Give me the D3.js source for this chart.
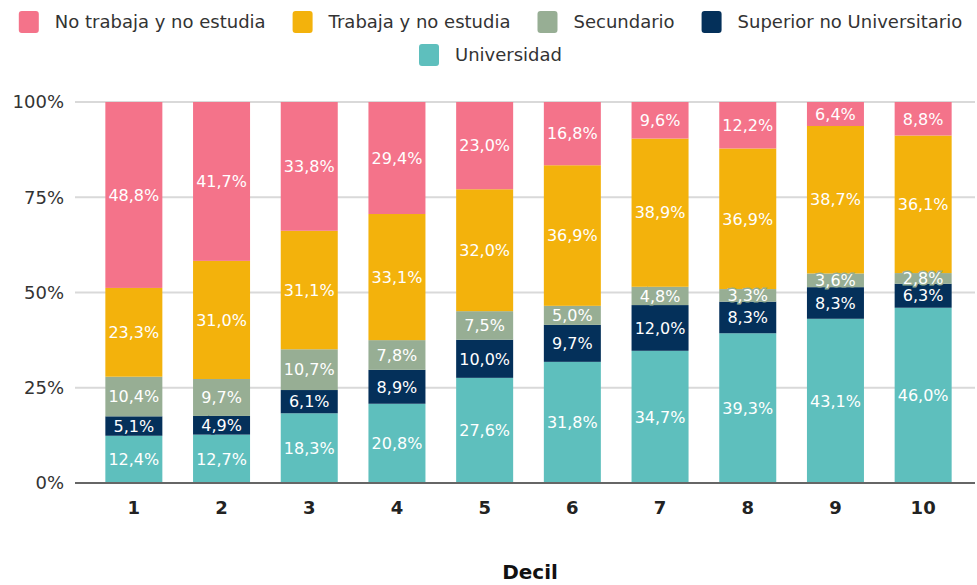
<!DOCTYPE html>
<html>
<head>
<meta charset="utf-8">
<script src="https://cdn.jsdelivr.net/npm/d3@7"></script>
<style>
  body { margin: 0; background: #fff; }
  text { font-family: "DejaVu Sans", Verdana, sans-serif; }
</style>
</head>
<body>
<script>
var width = 977, height = 585;

var deciles = ["1", "2", "3", "4", "5", "6", "7", "8", "9", "10"];
var universidad = [12.4, 12.7, 18.3, 20.8, 27.6, 31.8, 34.7, 39.3, 43.1, 46.0];
var superiorNoUniv = [5.1, 4.9, 6.1, 8.9, 10.0, 9.7, 12.0, 8.3, 8.3, 6.3];
var secundario = [10.4, 9.7, 10.7, 7.8, 7.5, 5.0, 4.8, 3.3, 3.6, 2.8];
var trabaja = [23.3, 31.0, 31.1, 33.1, 32.0, 36.9, 38.9, 36.9, 38.7, 36.1];
var noTrabaja = [48.8, 41.7, 33.8, 29.4, 23.0, 16.8, 9.6, 12.2, 6.4, 8.8];
var yTicks = [0, 25, 50, 75, 100];

// stacking order bottom -> top
var series = [
  { key: "Universidad", values: universidad, color: "#5ebfbd" },
  { key: "Superior no Universitario", values: superiorNoUniv, color: "#04305a" },
  { key: "Secundario", values: secundario, color: "#97ae94" },
  { key: "Trabaja y no estudia", values: trabaja, color: "#f3b20c" },
  { key: "No trabaja y no estudia", values: noTrabaja, color: "#f4738a" }
];

var rows = deciles.map(function(d, i) {
  var r = { decil: d };
  series.forEach(function(s) { r[s.key] = s.values[i]; });
  return r;
});

var svg = d3.select("body").append("svg")
  .attr("width", width)
  .attr("height", height);

var x = d3.scaleBand().domain(deciles).range([90, 967]).paddingInner(0.35).paddingOuter(0.175);
var y = d3.scaleLinear().domain([0, 100]).range([483, 102]);

// gridlines
svg.append("g").selectAll("line")
  .data(yTicks.filter(function(t) { return t > 0; }))
  .enter().append("line")
  .attr("x1", 75).attr("x2", 975)
  .attr("y1", function(d) { return y(d); })
  .attr("y2", function(d) { return y(d); })
  .attr("stroke", "#d9d9d9")
  .attr("stroke-width", 2);

// y tick labels
svg.append("g").selectAll("text")
  .data(yTicks)
  .enter().append("text")
  .attr("x", 64)
  .attr("y", function(d) { return y(d); })
  .attr("dy", "0.36em")
  .attr("text-anchor", "end")
  .attr("font-size", 18)
  .attr("fill", "#333")
  .text(function(d) { return d + "%"; });

var stack = d3.stack().keys(series.map(function(s) { return s.key; }));
var stacked = stack(rows);

var layers = svg.append("g").selectAll("g")
  .data(stacked)
  .enter().append("g")
  .attr("fill", function(d, i) { return series[i].color; });

layers.selectAll("rect")
  .data(function(d) { return d; })
  .enter().append("rect")
  .attr("x", function(d) { return x(d.data.decil); })
  .attr("width", x.bandwidth())
  .attr("y", function(d) { return y(Math.min(d[1], 100)); })
  .attr("height", function(d) { return y(d[0]) - y(Math.min(d[1], 100)); });

// value labels
var fmt = function(v) { return v.toFixed(1).replace(".", ",") + "%"; };
stacked.forEach(function(layer, li) {
  svg.append("g").selectAll("text")
    .data(layer)
    .enter().append("text")
    .attr("x", function(d) { return x(d.data.decil) + x.bandwidth() / 2; })
    .attr("y", function(d) { return (y(d[0]) + y(Math.min(d[1], 100))) / 2; })
    .attr("dy", "0.36em")
    .attr("text-anchor", "middle")
    .attr("font-size", 16)
    .attr("fill", "#fff")
    .attr("stroke", series[li].color)
    .attr("stroke-width", 3)
    .attr("paint-order", "stroke")
    .text(function(d) { return fmt(d.data[layer.key]); });
});

// x axis line
svg.append("line")
  .attr("x1", 75).attr("x2", 975)
  .attr("y1", y(0)).attr("y2", y(0))
  .attr("stroke", "#666")
  .attr("stroke-width", 2);

// x tick labels
svg.append("g").selectAll("text")
  .data(deciles)
  .enter().append("text")
  .attr("x", function(d) { return x(d) + x.bandwidth() / 2; })
  .attr("y", 508)
  .attr("dy", "0.36em")
  .attr("text-anchor", "middle")
  .attr("font-size", 18)
  .attr("font-weight", "bold")
  .attr("fill", "#222")
  .text(function(d) { return d; });

svg.append("text")
  .attr("x", 530)
  .attr("y", 572)
  .attr("dy", "0.36em")
  .attr("text-anchor", "middle")
  .attr("font-size", 20)
  .attr("font-weight", "bold")
  .attr("fill", "#111")
  .text("Decil");

// legend, two centred rows
var legendRows = [[4, 3, 2, 1], [0]];
var legendY = [22, 55];
legendRows.forEach(function(row, ri) {
  var g = svg.append("g");
  var xpos = 0;
  row.forEach(function(si) {
    var item = g.append("g").attr("transform", "translate(" + xpos + ",0)");
    item.append("rect")
      .attr("x", 0).attr("y", -11)
      .attr("width", 20).attr("height", 22)
      .attr("rx", 3)
      .attr("fill", series[si].color);
    var t = item.append("text")
      .attr("x", 36).attr("y", 0)
      .attr("dy", "0.36em")
      .attr("font-size", 18)
      .attr("fill", "#333")
      .text(series[si].key);
    xpos += 36 + t.node().getComputedTextLength() + 27;
  });
  var total = xpos - 27;
  g.attr("transform", "translate(" + ((width - total) / 2 + 2) + "," + legendY[ri] + ")");
});
</script>
</body>
</html>
